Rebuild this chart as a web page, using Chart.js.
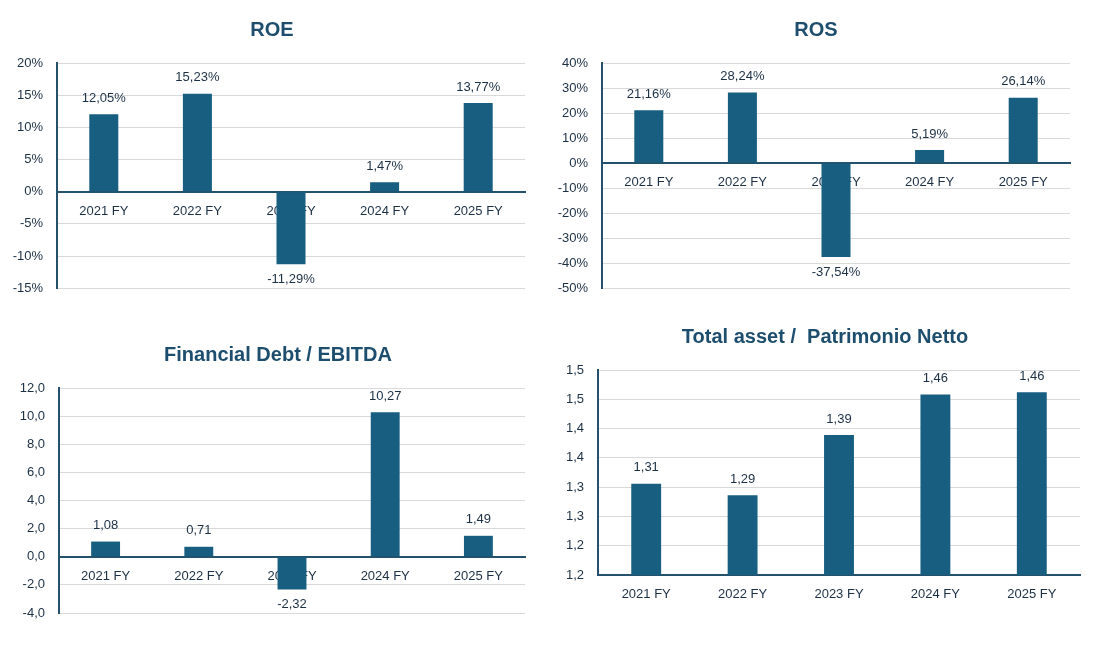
<!DOCTYPE html>
<html>
<head>
<meta charset="utf-8">
<script src="https://cdn.jsdelivr.net/npm/chart.js@4.4.1/dist/chart.umd.min.js"></script>
<style>
  body { margin: 0; background: #fff; }
  .box { position: absolute; }
</style>
</head>
<body>
<div class="box" style="left:0;top:0;width:544px;height:310px"><canvas id="roe"></canvas></div>
<div class="box" style="left:550px;top:0;width:532px;height:310px"><canvas id="ros"></canvas></div>
<div class="box" style="left:0;top:310px;width:556px;height:330px"><canvas id="debt"></canvas></div>
<div class="box" style="left:550px;top:310px;width:550px;height:330px"><canvas id="asset"></canvas></div>
<script>
// data
var years = ['2021 FY', '2022 FY', '2023 FY', '2024 FY', '2025 FY'];

var roeValues = [12.05, 15.23, -11.29, 1.47, 13.77];
var roeTicks = ['-15%', '-10%', '-5%', '0%', '5%', '10%', '15%', '20%'];

var rosValues = [21.16, 28.24, -37.54, 5.19, 26.14];
var rosTicks = ['-50%', '-40%', '-30%', '-20%', '-10%', '0%', '10%', '20%', '30%', '40%'];

var debtValues = [1.08, 0.71, -2.32, 10.27, 1.49];
var debtTicks = ['-4,0', '-2,0', '0,0', '2,0', '4,0', '6,0', '8,0', '10,0', '12,0'];

var assetValues = [1.306, 1.286, 1.389, 1.458, 1.462];
var assetTicks = ['1,2', '1,2', '1,3', '1,3', '1,4', '1,4', '1,5', '1,5'];

var barColor = '#175e80';
var textColor = '#1b2f45';
var titleColor = '#1d4e6e';
var axisColor = '#24516b';
var gridColor = '#d9d9d9';
var font = '"Liberation Sans", Arial, sans-serif';

// value labels over / under the bars
var valueLabels = {
	id: 'valueLabels',
	afterDatasetsDraw: function(chart, args, opts) {
		var ctx = chart.ctx;
		var meta = chart.getDatasetMeta(0);
		var data = chart.data.datasets[0].data;
		ctx.save();
		ctx.font = '13px ' + font;
		ctx.fillStyle = textColor;
		ctx.textAlign = 'center';
		ctx.textBaseline = 'middle';
		meta.data.forEach(function(bar, i) {
			var v = data[i];
			var txt = opts.format(v);
			if (v >= 0) {
				ctx.fillText(txt, bar.x, bar.y - 16);
			} else {
				ctx.fillText(txt, bar.x, bar.y + 15);
			}
		});
		ctx.restore();
	}
};

// chart title placed at a fixed spot (centred over the whole frame, not the plot)
var frameTitle = {
	id: 'frameTitle',
	afterDraw: function(chart, args, opts) {
		var ctx = chart.ctx;
		ctx.save();
		ctx.font = 'bold 20px ' + font;
		ctx.fillStyle = titleColor;
		ctx.textAlign = 'center';
		ctx.textBaseline = 'middle';
		ctx.fillText(opts.text, opts.x, opts.y);
		ctx.restore();
	}
};

function comma(v, d) {
	return v.toFixed(d).replace('.', ',');
}

function makeChart(id, title, values, tickLabels, opt) {
	var yMin = opt.min;
	var xScale = {
		grid: { display: false, drawTicks: false },
		border: { display: true, color: axisColor, width: 2 },
		ticks: { color: textColor, font: { family: font, size: 13 }, padding: 12, maxRotation: 0 },
		z: 1
	};
	if (opt.center) {
		xScale.position = { y: 0 };
	} else {
		xScale.afterFit = function(s) { s.height = opt.xHeight; };
	}
	return new Chart(document.getElementById(id), {
		type: 'bar',
		data: {
			labels: years,
			datasets: [{
				data: values,
				backgroundColor: barColor,
				categoryPercentage: 1,
				barPercentage: 0.31
			}]
		},
		plugins: [valueLabels, frameTitle],
		options: {
			responsive: true,
			maintainAspectRatio: false,
			animation: false,
			layout: { padding: opt.padding },
			plugins: {
				legend: { display: false },
				tooltip: { enabled: false },
				title: { display: false },
				frameTitle: { text: title, x: opt.titleX, y: opt.titleY },
				valueLabels: { format: opt.format }
			},
			scales: {
				x: xScale,
				y: {
					min: yMin,
					max: opt.max,
					afterFit: function(s) { s.width = opt.yWidth; },
					afterBuildTicks: function(s) {
						s.ticks = [];
						for (var i = 0; i < tickLabels.length; i++) {
							s.ticks.push({ value: yMin + i * opt.step });
						}
					},
					grid: {
						drawTicks: false,
						color: gridColor,
						lineWidth: 1
					},
					border: { display: true, color: axisColor, width: 2 },
					ticks: {
						color: textColor,
						font: { family: font, size: 13 },
						padding: 14,
						callback: function(v, i) { return tickLabels[i]; }
					}
				}
			}
		}
	});
}

makeChart('roe', 'ROE', roeValues, roeTicks, {
	min: -15, max: 20, step: 5, center: true,
	padding: { left: 0, right: 19, top: 63, bottom: 20 },
	titleX: 272, titleY: 30,
	yWidth: 57,
	format: function(v) { return comma(v, 2) + '%'; }
});

makeChart('ros', 'ROS', rosValues, rosTicks, {
	min: -50, max: 40, step: 10, center: true,
	padding: { left: 0, right: 12, top: 63, bottom: 21 },
	titleX: 266, titleY: 30,
	yWidth: 52,
	format: function(v) { return comma(v, 2) + '%'; }
});

makeChart('debt', 'Financial Debt / EBITDA', debtValues, debtTicks, {
	min: -4, max: 12, step: 2, center: true,
	padding: { left: 0, right: 31, top: 78, bottom: 27 },
	titleX: 278, titleY: 45,
	yWidth: 59,
	format: function(v) { return comma(v, 2); }
});

makeChart('asset', 'Total asset /  Patrimonio Netto', assetValues, assetTicks, {
	min: 1.15, max: 1.5, step: 0.05, center: false, xHeight: 30,
	padding: { left: 0, right: 20, top: 60, bottom: 35 },
	titleX: 275, titleY: 27,
	yWidth: 48,
	format: function(v) { return comma(v, 2); }
});
</script>
</body>
</html>
